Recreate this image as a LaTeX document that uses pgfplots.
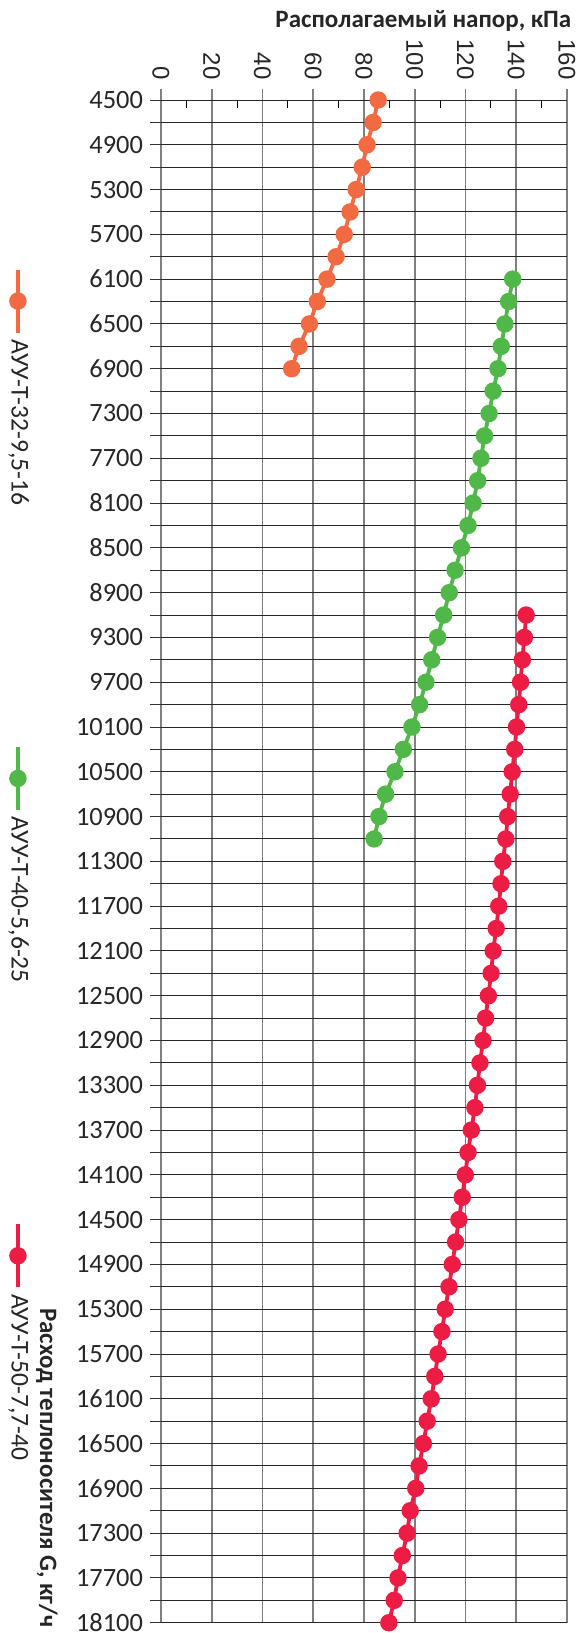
\documentclass[border=0pt]{standalone}
\usepackage{fontspec}
\setmainfont{Carlito}
\newfontfamily\libsans{Liberation Sans}
\usepackage{pgfplots}
\pgfplotsset{compat=1.18}
\definecolor{cOr}{RGB}{242,106,66}
\definecolor{cGr}{RGB}{80,184,72}
\definecolor{cRd}{RGB}{236,28,69}
\begin{document}
\begin{tikzpicture}
\begin{axis}[
  name=ax,
  scale only axis, width=203pt, height=761.35pt,
  xmin=0, xmax=160, ymin=4500, ymax=18100,
  y dir=reverse,
  scaled y ticks=false, scaled x ticks=false,
  axis line style={draw=none},
  xtick={0,20,...,160},
  xticklabels={0,20,40,60,80,100,120,140,160},
  minor x tick num=1,
  ytick={4500,4700,...,18100},
  yticklabels={4500,,4900,,5300,,5700,,6100,,6500,,6900,,7300,,7700,,8100,,8500,,8900,,9300,,9700,,10100,,10500,,10900,,11300,,11700,,12100,,12500,,12900,,13300,,13700,,14100,,14500,,14900,,15300,,15700,,16100,,16500,,16900,,17300,,17700,,18100},
  xtick pos=right, xticklabel pos=right, ytick pos=left,
  tick align=outside,
  major tick length=5.5pt, minor tick length=4pt,
  major x tick style={color=black!50, line width=0.9pt},
  minor x tick style={yshift=-4pt, color=black, line width=0.5pt},
  y tick style={color=black!80, line width=0.5pt},
  xmajorgrids=true, ymajorgrids=true,
  x grid style={color=black!50, line width=0.9pt},
  y grid style={color=black!85, line width=0.5pt},
  xticklabel style={rotate=-90, anchor=east, inner sep=4.5pt, font=\libsans\fontsize{12}{14}\selectfont, color=black!85},
  yticklabel style={font=\fontsize{13.2}{15}\selectfont, color=black!85},
  xlabel={Располагаемый напор, кПа},
  xlabel style={at={(axis description cs:1.0116,1.0473)}, anchor=base east, inner sep=0pt, font=\bfseries\fontsize{12.5}{15}\selectfont, color=black!85},
  ylabel={Расход теплоносителя G, кг/ч},
  ylabel style={rotate=180, anchor=east, inner sep=0pt, at={(axis description cs:-0.281,-0.0035)}, font=\bfseries\fontsize{12.5}{15}\selectfont, color=black!85},
  legend cell align=left,
  legend style={at={(axis description cs:-0.349,0.4983)}, anchor=center, draw=none, fill=none, inner sep=0pt, outer sep=0pt, font=\fontsize{12.8}{15}\selectfont, text=black!85, column sep=-8.6pt, row sep=119.75pt, cells={anchor=west}, nodes={inner sep=0pt, outer sep=0pt, text height=8pt, text depth=2pt, rotate=-90, anchor=west}},
  legend image code/.code={\draw[mark repeat=2,mark phase=2] plot coordinates {(0pt,3.5pt)(0pt,19.25pt)(0pt,35pt)};},
  every axis plot/.append style={line width=1.9pt, mark=*, mark size=3.4pt, mark options={solid}},
]
\addplot[cOr] table {
x y
85.6 4500
83.6 4700
81.2 4900
79.3 5100
76.9 5300
74.5 5500
72.2 5700
69.0 5900
65.4 6100
61.6 6300
58.5 6500
54.4 6700
51.5 6900
};
\addlegendentry{АУУ-Т-32-9,5-16}
\addplot[cGr] table {
x y
138.6 6100
137.0 6300
135.5 6500
134.1 6700
132.8 6900
130.9 7100
129.3 7300
127.5 7500
126.1 7700
124.8 7900
123.0 8100
121.0 8300
118.4 8500
115.9 8700
113.6 8900
111.4 9100
109.0 9300
106.7 9500
104.4 9700
101.9 9900
98.9 10100
95.5 10300
92.2 10500
88.5 10700
85.9 10900
84.0 11100
};
\addlegendentry{АУУ-Т-40-5,6-25}
\addplot[cRd] table {
x y
143.9 9100
143.2 9300
142.4 9500
141.7 9700
141.0 9900
140.1 10100
139.4 10300
138.4 10500
137.6 10700
136.6 10900
135.9 11100
134.7 11300
134.0 11500
133.1 11700
132.1 11900
130.9 12100
130.1 12300
129.0 12500
127.9 12700
126.9 12900
125.7 13100
124.7 13300
123.7 13500
122.3 13700
121.0 13900
119.9 14100
118.7 14300
117.4 14500
116.1 14700
114.8 14900
113.5 15100
112.0 15300
110.7 15500
109.2 15700
107.9 15900
106.5 16100
104.9 16300
103.4 16500
101.7 16700
100.4 16900
98.2 17100
97.0 17300
95.1 17500
93.4 17700
91.9 17900
89.8 18100
};
\addlegendentry{АУУ-Т-50-7,7-40}
\end{axis}
\pgfresetboundingbox
\path[use as bounding box] ([shift={(-80.5pt,-5.15pt)}]ax.south west) rectangle ([shift={(7.5pt,50pt)}]ax.north east);
\end{tikzpicture}
\end{document}
